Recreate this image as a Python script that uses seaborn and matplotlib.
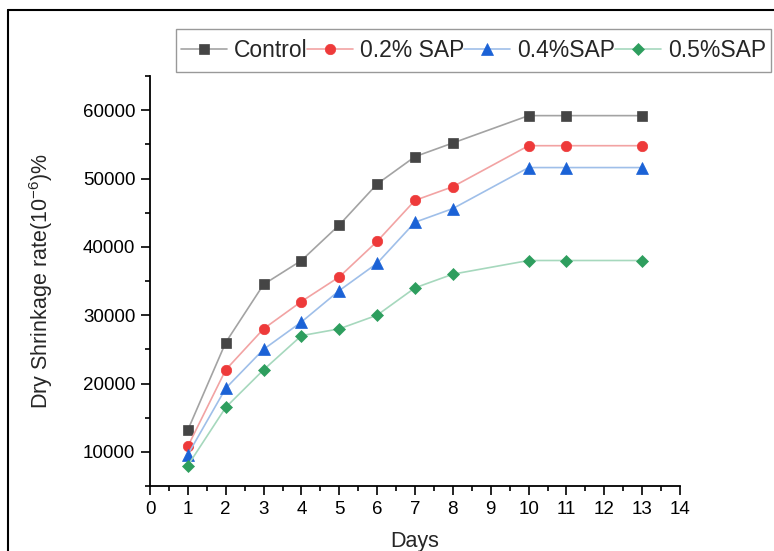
import matplotlib
matplotlib.use("Agg")
import matplotlib.pyplot as plt
from matplotlib.lines import Line2D
from matplotlib.patches import Rectangle
from matplotlib.ticker import MultipleLocator
import seaborn as sns
import pandas as pd

days = [1, 2, 3, 4, 5, 6, 7, 8, 10, 11, 13]
control = [13200, 26000, 34500, 38000, 43200, 49200, 53200, 55200, 59200, 59200, 59200]
sap02 = [10800, 22000, 28000, 32000, 35600, 40800, 46800, 48800, 54800, 54800, 54800]
sap04 = [9600, 19300, 25000, 29000, 33600, 37600, 43600, 45600, 51600, 51600, 51600]
sap05 = [8000, 16500, 22000, 27000, 28000, 30000, 34000, 36000, 38000, 38000, 38000]
labels = ["Control", "0.2% SAP", "0.4%SAP", "0.5%SAP"]
x_ticks = list(range(0, 15))
y_ticks = [10000, 20000, 30000, 40000, 50000, 60000]

sns.set_theme(style="ticks")
plt.rcParams["font.family"] = ["Liberation Sans", "DejaVu Sans"]
plt.rcParams["mathtext.fontset"] = "custom"
plt.rcParams["mathtext.rm"] = "Liberation Sans"
plt.rcParams["mathtext.it"] = "Liberation Sans:italic"

W, H = 774, 551
fig = plt.figure(figsize=(W / 100, H / 100), dpi=100)
ax = fig.add_axes([150 / W, 1 - 486 / H, 530 / W, 410 / H])

series = [control, sap02, sap04, sap05]
line_colors = ["#a3a3a3", "#f2a3a3", "#9fbfe9", "#a6d8bd"]
mk_colors = ["#454545", "#ee3a3a", "#1b62d6", "#2e9e5e"]
markers = ["s", "o", "^", "D"]
msizes = [7, 7.5, 8, 6.5]

for vals, lab, lc, mc, m, ms in zip(series, labels, line_colors, mk_colors, markers, msizes):
    df = pd.DataFrame({"Days": days, "val": vals})
    sns.lineplot(data=df, x="Days", y="val", ax=ax, color=lc, linewidth=1.2,
                 marker=m, markersize=ms, markerfacecolor=mc, markeredgecolor=mc,
                 markeredgewidth=0.5, label=lab)

ax.set_xlim(0, 14)
ax.set_ylim(5000, 65000)
ax.set_xticks(x_ticks)
ax.set_yticks(y_ticks)
ax.xaxis.set_minor_locator(MultipleLocator(0.5))
ax.yaxis.set_minor_locator(MultipleLocator(5000))
ax.set_yticklabels([str(v) for v in y_ticks])
ax.tick_params(axis="both", which="major", direction="out", length=6.5, width=1.2,
               labelsize=13.5, colors="black", pad=4)
ax.tick_params(axis="both", which="minor", direction="out", length=3.5, width=1.2, colors="black")
for s in ["left", "bottom"]:
    ax.spines[s].set_linewidth(1.3)
    ax.spines[s].set_color("black")
for s in ["top", "right"]:
    ax.spines[s].set_visible(False)

ax.set_xlabel("Days", fontsize=15.5, labelpad=10)
ax.set_ylabel("Dry Shrinkage rate(10$^{\\mathregular{-6}}$)%", fontsize=15.5, labelpad=20)

leg = ax.legend(loc="center", bbox_to_anchor=(473.5 / W, 1 - 50.5 / H),
                bbox_transform=fig.transFigure, ncol=4, fontsize=16.5, frameon=False,
                handlelength=2.0, handletextpad=0.3, columnspacing=0.0, borderpad=0.1)

# legend box
fig.add_artist(Rectangle((176 / W, 1 - 72 / H), 595 / W, 43 / H, transform=fig.transFigure,
                         fill=False, edgecolor="#999999", linewidth=1.0))

# figure border (left and top)
fx = 8 / W
fy = 1 - 10 / H
fig.add_artist(Line2D([fx, fx], [0, fy], transform=fig.transFigure, color="black", linewidth=1.5))
fig.add_artist(Line2D([fx, 1], [fy, fy], transform=fig.transFigure, color="black", linewidth=1.5))

fig.savefig("out.png", dpi=100)
